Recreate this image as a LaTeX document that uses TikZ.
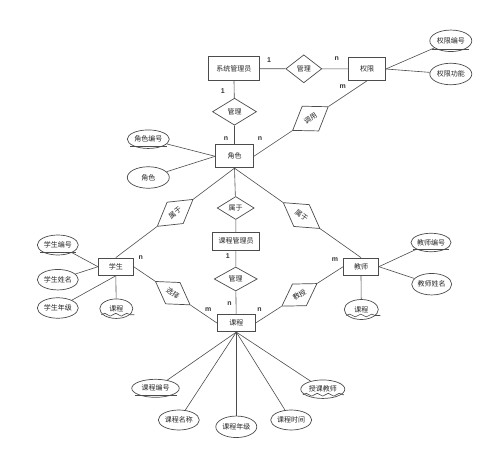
\documentclass[tikz,border=0pt]{standalone}
\usepackage{fontspec}
\newfontfamily\cjk{Noto Sans CJK SC}
\newfontfamily\lab{Liberation Sans}
\usetikzlibrary{shapes.geometric,calc,decorations.pathmorphing}
\begin{document}
\begin{tikzpicture}[x=1pt,y=-1pt,
  font=\cjk\fontsize{7}{8}\selectfont, text=black!85,
  ent/.style={rectangle, draw=black!70, line width=0.7pt, fill=white, inner sep=0pt},
  attr/.style={ellipse, draw=black!70, line width=0.7pt, fill=white, inner sep=0pt},
  rel/.style={diamond, draw=black!70, line width=0.7pt, fill=white, inner sep=0pt},
  card/.style={font=\lab\bfseries\fontsize{7}{8}\selectfont, text=black!80, inner sep=0pt},
  ln/.style={draw=black!70, line width=0.6pt},
  wav/.style={draw=black!70, line width=0.6pt, decorate, decoration={snake, amplitude=1.4pt, segment length=11pt}}
]
\useasboundingbox (0,0) rectangle (500,465);

% entities
\node[ent, minimum width=51, minimum height=24] (xtgly) at (233.8,68.8) {系统管理员};
\node[ent, minimum width=37, minimum height=23] (qx) at (367,69) {权限};
\node[ent, minimum width=38, minimum height=23] (js) at (234.5,156.3) {角色};
\node[ent, minimum width=47, minimum height=17.5] (kcgly) at (236,241.3) {课程管理员};
\node[ent, minimum width=38, minimum height=17.5] (kc) at (236.3,323) {课程};
\node[ent, minimum width=35, minimum height=17.5] (xs) at (115.8,266.7) {学生};
\node[ent, minimum width=35, minimum height=17.5] (jsi) at (361,266.7) {教师};

% upright relations
\node[rel, minimum width=36, minimum height=28] (gl1) at (303.8,68.8) {管理};
\node[rel, minimum width=44, minimum height=27] (gl2) at (234.5,111.7) {管理};
\node[rel, minimum width=37, minimum height=23] (sy2) at (235.7,208) {属于};
\node[rel, minimum width=43, minimum height=24] (gl3) at (235.7,279) {管理};

% sloped relations
\path (xs.north) -- node[rel, sloped, minimum width=45, minimum height=27] (sy1) {属于} (js.south);
\path (js.south) -- node[rel, sloped, pos=0.53, minimum width=45, minimum height=27] (sy3) {属于} (jsi.north);
\path (js.east) -- node[rel, sloped, minimum width=43, minimum height=30] (dy) {调用} (qx.south);
\path (xs.east) -- node[rel, sloped, pos=0.47, minimum width=42, minimum height=26] (xz) {选择} (kc.west);
\path (kc.east) -- node[rel, sloped, minimum width=42, minimum height=26] (jsh) {教授} (jsi.west);

% attributes
\node[attr, minimum width=42, minimum height=21.5] (qxbh) at (450.8,40.8) {权限编号};
\node[attr, minimum width=42, minimum height=21.5] (qxgn) at (450.8,74) {权限功能};
\node[attr, minimum width=42, minimum height=18.5] (jsbh) at (148.3,139.2) {角色编号};
\node[attr, minimum width=42, minimum height=21.5] (jsa) at (148.3,177.5) {角色};
\node[attr, minimum width=41, minimum height=20] (xsbh) at (57.8,245) {学生编号};
\node[attr, minimum width=41, minimum height=20.5] (xsxm) at (57.8,279.7) {学生姓名};
\node[attr, minimum width=41, minimum height=20.5] (xsnj) at (57.8,308) {学生年级};
\node[attr, minimum width=33, minimum height=19.5] (xskc) at (116.3,308.7) {课程};
\node[attr, minimum width=40, minimum height=18.5] (jsbh2) at (431,242.5) {教师编号};
\node[attr, minimum width=40, minimum height=21.5] (jsxm) at (431.7,284.2) {教师姓名};
\node[attr, minimum width=34, minimum height=20] (jskc) at (361.3,309.5) {课程};
\node[attr, minimum width=47.5, minimum height=18] (kcbh) at (155.5,388.3) {课程编号};
\node[attr, minimum width=41, minimum height=20] (kcmc) at (178.8,420) {课程名称};
\node[attr, minimum width=41, minimum height=21.5] (kcnj) at (236.3,426.8) {课程年级};
\node[attr, minimum width=41, minimum height=20] (kcsj) at (291.2,420) {课程时间};
\node[attr, minimum width=44, minimum height=18.5] (skjs) at (322.8,389.2) {授课教师};

% connectors
\draw[ln] (xtgly) -- (gl1) -- (qx);
\draw[ln] (xtgly) -- (gl2) -- (js);
\draw[ln] (qx.east) -- (qxbh);
\draw[ln] (qx.east) -- (qxgn);
\draw[ln] (js.west) -- (jsbh);
\draw[ln] (js.west) -- (jsa);
\draw[ln] (js.east) -- (dy) -- (qx.south);
\draw[ln] (js.south) -- (sy1) -- (xs.north);
\draw[ln] (js.south) -- (sy2) -- (kcgly);
\draw[ln] (js.south) -- (sy3) -- (jsi.north);
\draw[ln] (kcgly) -- (gl3) -- (kc);
\draw[ln] (xs.east) -- (xz) -- (kc.west);
\draw[ln] (kc.east) -- (jsh) -- (jsi.west);
\draw[ln] (xs.west) -- (xsbh);
\draw[ln] (xs.west) -- (xsxm);
\draw[ln] (xs.south) -- (xsnj);
\draw[ln] (xs.south) -- (xskc);
\draw[ln] (jsi.east) -- (jsbh2);
\draw[ln] (jsi.east) -- (jsxm);
\draw[ln] (jsi.south) -- (jskc);
\draw[ln] (kc.south) -- (kcbh);
\draw[ln] (kc.south) -- (kcmc);
\draw[ln] (kc.south) -- (kcnj);
\draw[ln] (kc.south) -- (kcsj);
\draw[ln] (kc.south) -- (skjs);

% key underlines
\draw[ln] ($(qxbh.center)+(-18.5,8.2)$) -- ($(qxbh.center)+(18.5,8.2)$);
\draw[ln] ($(jsbh.center)+(-18.5,7)$) -- ($(jsbh.center)+(18.5,7)$);
\draw[ln] ($(xsbh.center)+(-18,7.6)$) -- ($(xsbh.center)+(18,7.6)$);
\draw[ln] ($(jsbh2.center)+(-17.6,7)$) -- ($(jsbh2.center)+(17.6,7)$);
\draw[ln] ($(kcbh.center)+(-21,6.8)$) -- ($(kcbh.center)+(21,6.8)$);

% wavy (multi-valued) marks
\draw[wav] ($(xskc.center)+(-15,6)$) -- ($(xskc.center)+(18,6)$);
\draw[wav] ($(jskc.center)+(-15,6)$) -- ($(jskc.center)+(19,6)$);
\draw[wav] ($(skjs.center)+(-20,5.5)$) -- ($(skjs.center)+(21,5.5)$);

% cardinalities
\node[card] (c1) at (269,60) {1};
\node[card] (c2) at (336.7,58.3) {n};
\node[card] (c3) at (222.7,90.7) {1};
\node[card] (c4) at (226,138.3) {n};
\node[card] (c5) at (260,138.3) {n};
\node[card] (c6) at (342.7,86.7) {m};
\node[card] (c7) at (140.7,258) {n};
\node[card] (c8) at (208.3,309.3) {m};
\node[card] (c9) at (227.7,255.7) {1};
\node[card] (c10) at (229.5,303.5) {n};
\node[card] (c11) at (259.5,309.3) {n};
\node[card] (c12) at (335,259.3) {m};
\end{tikzpicture}
\end{document}
